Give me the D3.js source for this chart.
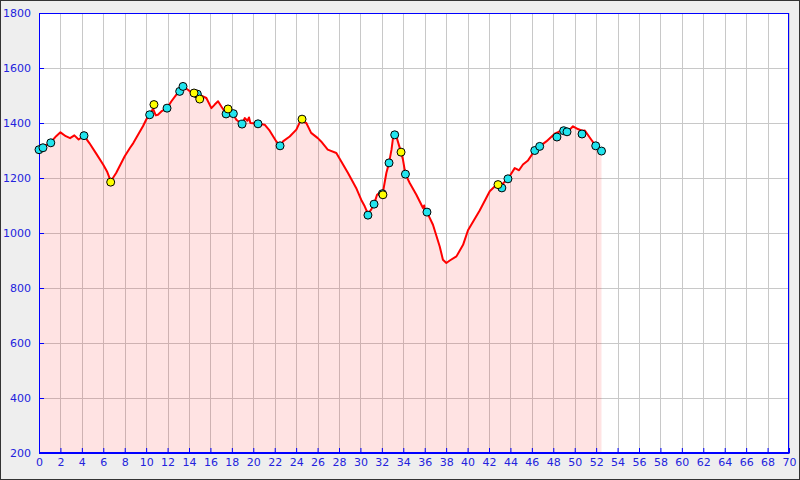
<!DOCTYPE html>
<html><head><meta charset="utf-8">
<script src="https://cdn.jsdelivr.net/npm/d3@7"></script>
<style>html,body{margin:0;padding:0;background:#eee;}svg{display:block;}</style>
</head><body>
<svg id="chart" width="800" height="480"></svg>
<script>
// Profile data: distance (km) and elevation (m)
const profileKm = [0,0.4,1.1,1.6,2.0,2.5,2.9,3.3,3.7,4.2,4.7,5.4,6.0,6.35,6.7,7.2,8.0,8.5,8.8,9.7,10.0,10.33,10.64,10.9,11.1,11.42,11.95,12.36,12.82,13.13,13.44,13.9,14.3,14.78,15.15,15.62,16.09,16.4,16.71,17.02,17.33,17.64,18.14,18.42,18.95,19.2,19.45,19.6,19.73,20.44,21.06,21.53,22.15,22.5,22.77,23.4,24.02,24.4,24.95,25.4,26.02,26.33,26.95,27.75,28.2,28.84,29.6,30.07,30.4,30.7,31.0,31.27,31.55,31.86,32.1,32.42,32.67,32.9,33.04,33.2,33.4,33.79,33.97,34.2,34.6,35.22,35.84,35.95,36.0,36.21,36.77,37.4,37.7,38.02,38.34,38.96,39.58,40.04,41.13,42.07,42.6,43.2,43.77,44.4,44.6,44.8,45.17,45.64,46.27,46.73,47.35,48.13,48.5,49.0,49.53,49.84,50.3,50.68,50.93,51.55,51.96,52.5];
const profileElev = [1303,1312,1330,1352,1366,1352,1345,1355,1340,1354,1327,1285,1248,1224,1188,1218,1279,1310,1327,1388,1412,1430,1452,1428,1430,1442,1454,1479,1503,1515,1533,1521,1508,1505,1499,1491,1454,1467,1479,1460,1442,1445,1430,1412,1396,1418,1408,1420,1400,1397,1394,1372,1333,1317,1333,1351,1376,1408,1400,1364,1345,1333,1303,1291,1261,1218,1164,1121,1097,1070,1085,1105,1139,1148,1148,1218,1255,1303,1345,1357,1345,1294,1267,1214,1182,1139,1091,1100,1085,1076,1030,951,903,891,900,915,957,1010,1082,1152,1172,1176,1197,1236,1232,1228,1249,1264,1300,1315,1333,1361,1368,1375,1376,1388,1378,1372,1373,1339,1317,1298];

// Waypoint markers
const cyanKm   = [0,0.37,1.1,4.2,10.33,11.95,13.13,13.44,14.78,17.46,18.14,18.95,20.44,22.5,30.7,31.27,32.05,32.67,33.2,34.2,36.21,43.2,43.77,46.27,46.73,48.34,48.97,49.28,50.68,51.96,52.5];
const cyanElev = [1303,1310,1328,1354,1430,1454,1515,1533,1505,1433,1434,1396,1397,1317,1065,1105,1143,1255,1357,1214,1076,1164,1197,1300,1315,1349,1372,1368,1360,1317,1298];
const yellowKm   = [6.69,10.73,14.47,15.0,17.64,24.55,32.1,33.79,42.84];
const yellowElev = [1185,1467,1509,1487,1451,1414,1139,1294,1176];

const xTicks = d3.range(0, 71, 2);
const yTicks = d3.range(200, 1801, 200);

const svg = d3.select("#chart");
const W = 800, H = 480;
const L = 39, R = 789, T = 13, B = 453;

svg.append("rect").attr("x",0.5).attr("y",0.5).attr("width",W-1).attr("height",H-1)
  .attr("fill","#eeeeee").attr("stroke","#333");

const x = d3.scaleLinear().domain([0,70]).range([L,R]);
const y = d3.scaleLinear().domain([200,1800]).range([B,T]);

svg.append("rect").attr("x",L).attr("y",T).attr("width",R-L).attr("height",B-T).attr("fill","#fff");

// grid
const g = svg.append("g");
g.selectAll("line.v").data(xTicks.slice(1)).join("line")
  .attr("x1",d=>Math.round(x(d))+0.5).attr("x2",d=>Math.round(x(d))+0.5)
  .attr("y1",T).attr("y2",B).attr("stroke","#c8c8c8").attr("stroke-width",1);
g.selectAll("line.h").data(yTicks.slice(1)).join("line")
  .attr("y1",d=>Math.round(y(d))+0.5).attr("y2",d=>Math.round(y(d))+0.5)
  .attr("x1",L).attr("x2",R).attr("stroke","#c8c8c8").attr("stroke-width",1);

const pts = profileKm.map((k,i)=>[k, profileElev[i]]);

svg.append("path").datum(pts)
  .attr("d", d3.area().x(d=>x(d[0])).y0(y(200)).y1(d=>y(d[1])))
  .attr("fill","rgba(255,0,0,0.11)");

svg.append("path").datum(pts)
  .attr("d", d3.line().x(d=>x(d[0])).y(d=>y(d[1])))
  .attr("fill","none").attr("stroke","#ff0000").attr("stroke-width",2).attr("stroke-linejoin","round");

// frame
svg.append("rect").attr("x",L+0.5).attr("y",T+0.5).attr("width",R-L-1).attr("height",B-T-1)
  .attr("fill","none").attr("stroke","#0000ff").attr("stroke-width",1);

// axes (ticks inward)
const xAxis = d3.axisBottom(x).tickValues(xTicks).tickFormat(d3.format("d")).tickSizeInner(-5).tickSizeOuter(0).tickPadding(9);
const yAxis = d3.axisLeft(y).tickValues(yTicks).tickFormat(d3.format("d")).tickSizeInner(-5).tickSizeOuter(0).tickPadding(9);
const gx = svg.append("g").attr("transform",`translate(0,${B})`).call(xAxis);
const gy = svg.append("g").attr("transform",`translate(${L},0)`).call(yAxis);
[gx,gy].forEach(a=>{
  a.select(".domain").attr("stroke","#0000ff");
  a.selectAll(".tick line").attr("stroke","#0000ff");
  a.selectAll(".tick text").attr("fill","#2222dd").attr("font-family","DejaVu Sans").attr("font-size",11);
});
gx.selectAll(".tick text").attr("dy","0.71em").attr("y",5);
gy.selectAll(".tick text").attr("x",-8);

// markers
const cy = cyanKm.map((k,i)=>[k,cyanElev[i]]);
const ye = yellowKm.map((k,i)=>[k,yellowElev[i]]);
svg.append("g").selectAll("circle").data(cy).join("circle")
  .attr("cx",d=>x(d[0])).attr("cy",d=>y(d[1])).attr("r",4)
  .attr("fill","#22e4ee").attr("stroke","#000").attr("stroke-width",1);
svg.append("g").selectAll("circle").data(ye).join("circle")
  .attr("cx",d=>x(d[0])).attr("cy",d=>y(d[1])).attr("r",4)
  .attr("fill","#ffff00").attr("stroke","#000").attr("stroke-width",1);
</script>
</body></html>
